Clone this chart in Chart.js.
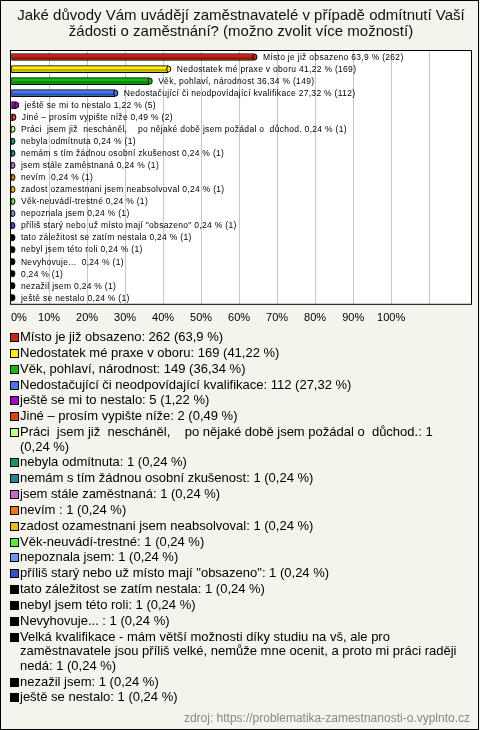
<!DOCTYPE html>
<html>
<head>
<meta charset="utf-8">
<script src="https://cdn.jsdelivr.net/npm/chart.js@4/dist/chart.umd.min.js"></script>
<style>
  body { margin: 0; background: #fff; }
  #frame { position: relative; width: 480px; height: 730px; background: #f4f4ec; font-family: "Liberation Sans", Arial, sans-serif; overflow: hidden; }
  #edge { position: absolute; left: 0; top: 0; width: 479px; height: 730px; box-sizing: border-box; border: 1px solid #000; pointer-events: none; }
  #chart { position: absolute; left: 0; top: 0; }
  #legend { position: absolute; left: 0; top: 330px; width: 472px; }
  .item { position: relative; padding-left: 20px; font-size: 13px; line-height: 14.5px; margin-bottom: 1.35px; white-space: pre-wrap; color: #000; }
  .item i { position: absolute; left: 10px; top: 3px; width: 7px; height: 7px; border: 1px solid #000; }
  #source { position: absolute; right: 10px; top: 711px; font-size: 12px; color: #888; }
</style>
</head>
<body>
<div id="frame">
  <canvas id="chart" width="480" height="339"></canvas>
  <div id="legend"></div>
  <div id="source">zdroj: https://problematika-zamestnanosti-o.vyplnto.cz</div>
  <div id="edge"></div>
</div>
<script>
// Jaké důvody Vám uvádějí zaměstnavatelé ... (vodorovné sloupce)

const titleLines = [
    'Jaké důvody Vám uvádějí zaměstnavatelé v případě odmítnutí Vaší',
    'žádosti o zaměstnání? (možno zvolit více možností)'
];

const labels = [
    'Místo je již obsazeno',
    'Nedostatek mé praxe v oboru',
    'Věk, pohlaví, národnost',
    'Nedostačující či neodpovídající kvalifikace',
    'ještě se mi to nestalo',
    'Jiné – prosím vypište níže',
    'Práci  jsem již  nescháněl,    po nějaké době jsem požádal o  důchod.',
    'nebyla odmítnuta',
    'nemám s tím žádnou osobní zkušenost',
    'jsem stále zaměstnaná',
    'nevím ',
    'zadost ozamestnani jsem neabsolvoval',
    'Věk-neuvádí-trestné',
    'nepoznala jsem',
    'příliš starý nebo už místo mají "obsazeno"',
    'tato záležitost se zatím nestala',
    'nebyl jsem této roli',
    'Nevyhovuje... ',
    'Velká kvalifikace - mám větší možnosti díky studiu na vš, ale pro zaměstnavatele jsou příliš velké, nemůže mne ocenit, a proto mi práci raději nedá',
    'nezažil jsem',
    'ještě se nestalo'
];

const counts = [262, 169, 149, 112, 5, 2, 1, 1, 1, 1, 1, 1, 1, 1, 1, 1, 1, 1, 1, 1, 1];

const percents = [63.9, 41.22, 36.34, 27.32, 1.22, 0.49, 0.24, 0.24, 0.24, 0.24, 0.24,
    0.24, 0.24, 0.24, 0.24, 0.24, 0.24, 0.24, 0.24, 0.24, 0.24];

const colors = ['#cc2211', '#ffee00', '#11bb11', '#4477ee', '#aa00cc', '#dd4411', '#bbff88',
    '#119966', '#228899', '#cc66cc', '#ee7711', '#eebb11', '#55ee33', '#6699ee', '#3355cc',
    '#000000', '#000000', '#000000', '#000000', '#000000', '#000000'];

const tickLabels = ['0%', '10%', '20%', '30%', '40%', '50%', '60%', '70%', '80%', '90%', '100%'];

const fmt = v => String(v).replace('.', ',');

// popisek u sloupce - prilis dlouhy text se vynecha
function barText(i) {
    const name = labels[i].length > 90 ? '' : labels[i] + ' ';
    return name + fmt(percents[i]) + ' % (' + counts[i] + ')';
}

const plotFrame = {
    id: 'plotFrame',
    beforeDraw(chart) {
        const a = chart.chartArea;
        const ctx = chart.ctx;
        ctx.save();
        ctx.fillStyle = '#ffffff';
        ctx.fillRect(a.left, a.top, a.right - a.left, a.bottom - a.top);
        ctx.restore();
    },
    afterDraw(chart) {
        const a = chart.chartArea;
        const ctx = chart.ctx;
        ctx.save();
        ctx.strokeStyle = '#000';
        ctx.lineWidth = 1;
        ctx.strokeRect(a.left - 0.5, a.top - 0.5, a.right - a.left + 1, a.bottom - a.top + 1);
        ctx.restore();
    }
};

const bar3d = {
    id: 'bar3d',
    afterDatasetsDraw(chart) {
        const ctx = chart.ctx;
        const meta = chart.getDatasetMeta(0);
        ctx.save();
        meta.data.forEach((bar, i) => {
            const h = bar.height;
            const w = bar.x - bar.base;
            if (w > 3) {
                ctx.fillStyle = 'rgba(0,0,0,0.28)';
                ctx.fillRect(bar.base + 1, bar.y, w - 2, h / 2 - 1);
            }
            // koncova elipsa
            ctx.beginPath();
            ctx.ellipse(bar.x + 1, bar.y, 2, h / 2 - 0.5, 0, 0, Math.PI * 2);
            ctx.fillStyle = colors[i];
            ctx.fill();
            ctx.strokeStyle = '#000';
            ctx.lineWidth = 1;
            ctx.stroke();
            ctx.fillStyle = '#000';
            ctx.font = '8.5px "Liberation Sans", Arial, sans-serif';
            ctx.letterSpacing = '0.3px';
            ctx.textBaseline = 'middle';
            ctx.textAlign = 'left';
            ctx.fillText(barText(i), bar.x + 9, bar.y + 0.5);
        });
        ctx.restore();
    }
};

new Chart(document.getElementById('chart'), {
    type: 'bar',
    data: {
        labels: labels,
        datasets: [{
            data: percents,
            backgroundColor: colors,
            borderColor: '#000',
            borderWidth: 1,
            borderSkipped: false,
            barThickness: 7
        }]
    },
    options: {
        indexAxis: 'y',
        responsive: false,
        animation: false,
        devicePixelRatio: 1,
        layout: { padding: { left: 11, right: 9, top: 0, bottom: 6 } },
        plugins: {
            legend: { display: false },
            tooltip: { enabled: false },
            title: {
                display: true,
                text: titleLines,
                color: '#111',
                font: { family: '"Liberation Sans", Arial, sans-serif', size: 15, weight: 'normal', lineHeight: 16 / 15 },
                padding: { top: 8, bottom: 11 }
            }
        },
        scales: {
            x: {
                min: 0,
                max: 121,
                afterFit: function (scale) {
                    scale.paddingLeft = 0;
                    scale.paddingRight = 0;
                },
                ticks: {
                    stepSize: 10,
                    padding: 8,
                    align: 'inner',
                    color: '#000',
                    font: { family: '"Liberation Sans", Arial, sans-serif', size: 11 },
                    maxRotation: 0,
                    autoSkip: false,
                    callback: function (value) {
                        return tickLabels[value / 10] || '';
                    }
                },
                grid: {
                    drawTicks: false,
                    color: function (context) {
                        const v = context.tick && context.tick.value;
                        return v > 0 && v <= 110 ? '#c8c8c8' : 'rgba(0,0,0,0)';
                    }
                },
                border: { display: false }
            },
            y: {
                display: false,
                offset: true,
                grid: { display: false }
            }
        }
    },
    plugins: [plotFrame, bar3d]
});

// legenda pod grafem
const legend = document.getElementById('legend');
labels.forEach((name, i) => {
    const item = document.createElement('div');
    item.className = 'item';
    const sq = document.createElement('i');
    sq.style.background = colors[i];
    item.appendChild(sq);
    item.appendChild(document.createTextNode(name + ': ' + counts[i] + ' (' + fmt(percents[i]) + '\u00a0%)'));
    legend.appendChild(item);
});
</script>
</body>
</html>
